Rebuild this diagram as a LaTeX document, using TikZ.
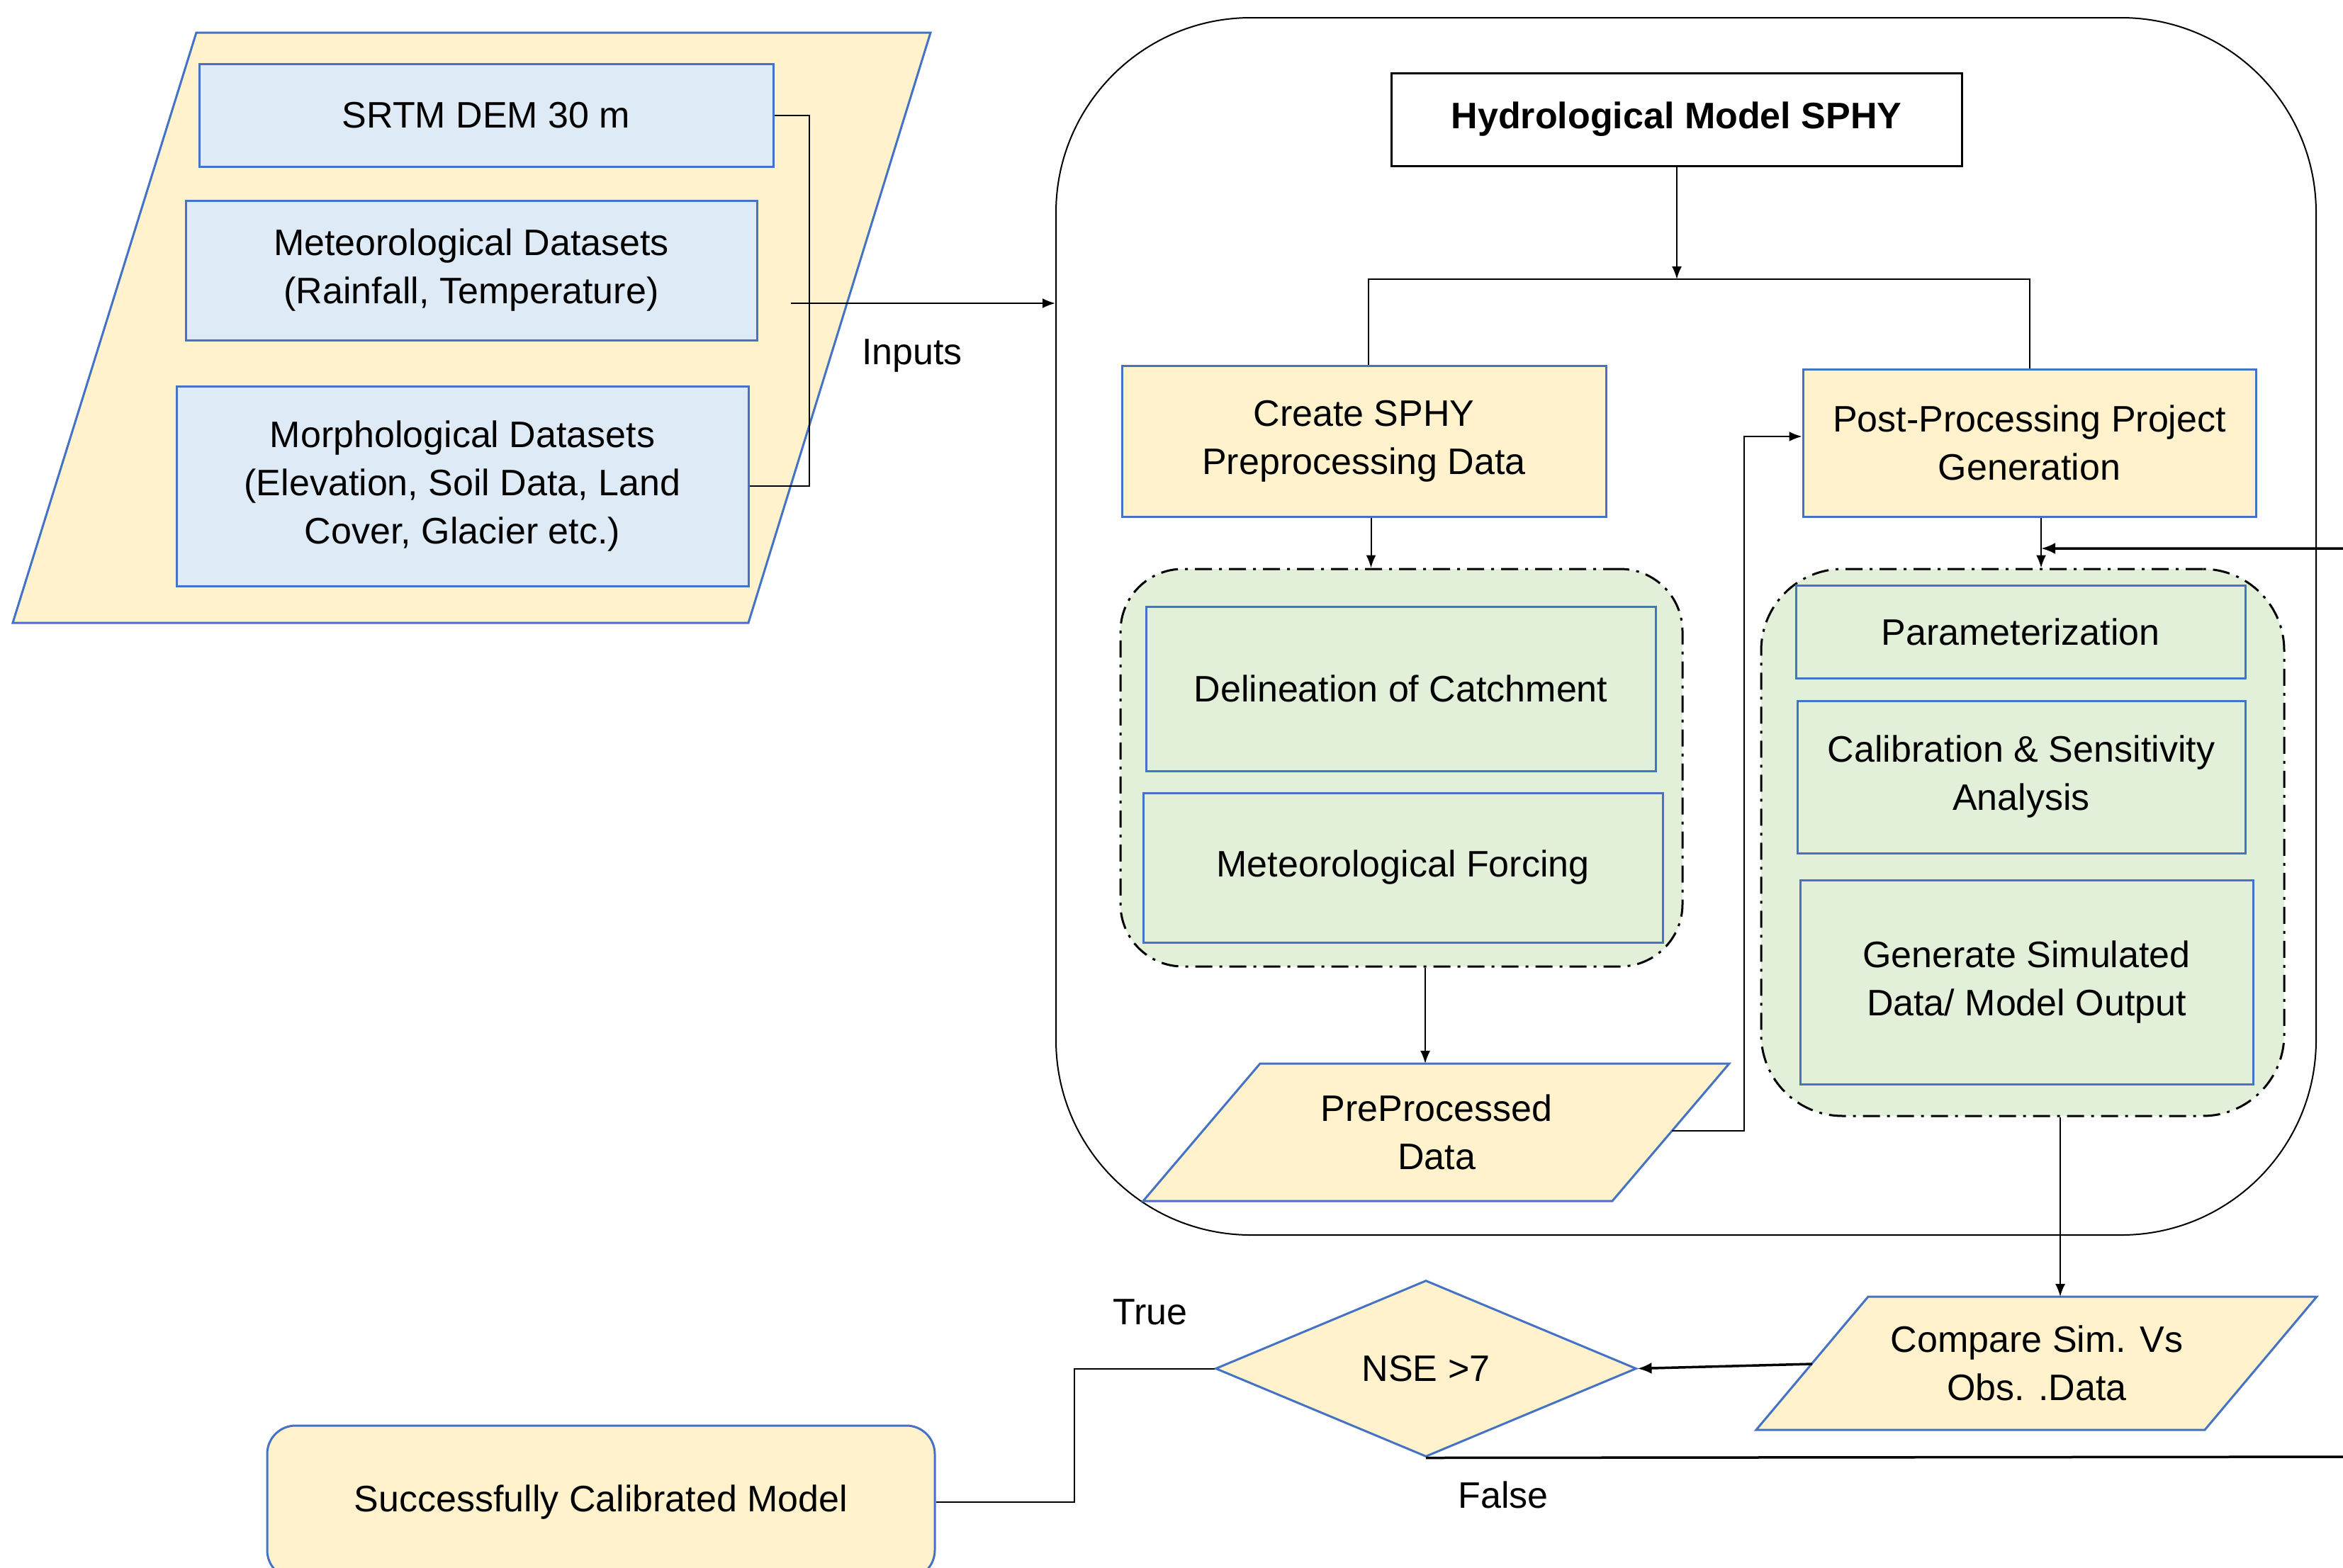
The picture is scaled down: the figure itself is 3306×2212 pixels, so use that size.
\documentclass[tikz,border=0pt]{standalone}
\usepackage{fontspec}
\setmainfont{Liberation Sans}
\usetikzlibrary{shapes.geometric,arrows.meta,calc}
\definecolor{ylw}{HTML}{FFF2CC}
\definecolor{lblue}{HTML}{DEEBF7}
\definecolor{lgreen}{HTML}{E2F0D9}
\definecolor{bdr}{HTML}{4472C4}
\begin{document}
\begin{tikzpicture}[x=1pt,y=-1pt,
  txt/.style={font=\fontsize{52}{68}\selectfont, align=center, text=black},
  boxbase/.style={txt, draw=bdr, line width=3pt, inner sep=0pt},
  bluebox/.style={boxbase, fill=lblue},
  ylwbox/.style={boxbase, fill=ylw},
  grnbox/.style={boxbase, fill=lgreen},
  para/.style={draw=bdr, fill=ylw, line width=3pt},
  grp/.style={draw=black, fill=lgreen, line width=3pt, dash pattern=on 24pt off 10pt on 4pt off 10pt, inner sep=0pt},
  conn/.style={draw=black, line width=2pt},
  arr/.style={conn, -{Latex[length=18pt,width=14pt]}},
  arrthick/.style={draw=black, line width=3.5pt, -{Latex[length=20pt,width=16pt]}},
  lbl/.style={txt, inner sep=0pt}
]
\useasboundingbox (0,0) rectangle (3306,2212);
\fill[white] (0,0) rectangle (3306,2212);
\clip (0,0) rectangle (3306,2212);

% ---------- inputs ----------
\draw[para] (277,46) -- (1313,46) -- (1056,879) -- (18,879) -- cycle;
\node[bluebox, minimum width=810pt, minimum height=145pt] (srtm) at (686,162.5) {SRTM DEM 30 m};
\node[bluebox, minimum width=806pt, minimum height=197pt] (met) at (665,381.5) {Meteorological Datasets\\(Rainfall, Temperature)};
\node[bluebox, minimum width=807pt, minimum height=282pt] (morph) at (652.5,686) {Morphological Datasets\\(Elevation, Soil Data, Land\\Cover, Glacier etc.)};
\draw[conn] (srtm.east) -- ++(49,0) |- (morph.east);

% ---------- main container ----------
\node[draw=black, line width=2pt, rounded corners=275pt, minimum width=1778pt, minimum height=1718pt, inner sep=0pt] (main) at (2379,884) {};
\coordinate (inStart) at (1116,428);
\draw[arr] (inStart) -- (inStart -| main.west);
\node[lbl] (inputs) at (1287,502) {Inputs};

\node[draw=black, fill=white, line width=3pt, txt, font=\fontsize{52}{68}\selectfont\bfseries, minimum width=805pt, minimum height=131pt, inner sep=0pt] (hydro) at (2365.5,168.5) {Hydrological Model SPHY};

\node[ylwbox, minimum width=683pt, minimum height=213pt] (create) at (1924.5,622.5) {Create SPHY\\Preprocessing Data};
\node[ylwbox, minimum width=639pt, minimum height=208pt] (post) at (2863.5,625) {Post-Processing Project\\Generation};

\coordinate (split) at (2366,394);
\draw[arr] (split |- hydro.south) -- (split);
\coordinate (cn) at ($(create.north)+(6,0)$);
\draw[conn] (cn) |- (split) -| (post.north);

% ---------- left group ----------
\node[grp, rounded corners=88pt, minimum width=793pt, minimum height=561pt] (lgrp) at (1977.5,1083.5) {};
\node[grnbox, minimum width=719pt, minimum height=232pt] (delin) at (1976.5,972) {Delineation of Catchment};
\node[grnbox, minimum width=733pt, minimum height=211pt] (force) at (1979.5,1224.5) {Meteorological Forcing};
\coordinate (ca) at ($(create.south)+(10,0)$);
\draw[arr] (ca) -- (ca |- lgrp.north);

% PreProcessed Data
\draw[para] (1778,1501) -- (2440,1501) -- (2275,1695) -- (1613,1695) -- cycle;
\node[lbl] (pre) at (2027,1598) {PreProcessed\\Data};
\coordinate (preTop) at (2011,1501);
\coordinate (preR) at (2359,1596);
\coordinate (postIn) at ($(post.west)+(0,-9)$);
\draw[arr] (preTop |- lgrp.south) -- (preTop);
\draw[arr] (preR) -- ++(102,0) |- (postIn);

% ---------- right group ----------
\node[grp, rounded corners=115pt, minimum width=738pt, minimum height=772pt] (rgrp) at (2854,1189) {};
\node[grnbox, minimum width=634pt, minimum height=131pt] (param) at (2851,891.5) {Parameterization};
\node[grnbox, minimum width=632pt, minimum height=215pt] (calib) at (2852,1096.5) {Calibration \& Sensitivity\\Analysis};
\node[grnbox, minimum width=639pt, minimum height=288pt] (gen) at (2859.5,1386) {Generate Simulated\\Data/ Model Output};
\coordinate (pa) at ($(post.south)+(16.5,0)$);
\draw[arr] (pa) -- (pa |- rgrp.north);

% ---------- bottom ----------
\draw[para] (2636,1830) -- (3269,1830) -- (3111,2018) -- (2478,2018) -- cycle;
\node[lbl] (cmp) at (2874,1924) {Compare Sim. Vs\\Obs. .Data};
\coordinate (cmpTop) at (2907,1830);
\coordinate (cmpL) at (2557,1925);
\draw[arr] (cmpTop |- rgrp.south) -- (cmpTop);

\node[diamond, draw=bdr, fill=ylw, line width=3pt, txt, aspect=2.4, minimum width=594pt, minimum height=249pt, inner sep=0pt] (nse) at (2012,1931.5) {NSE >7};
\draw[arrthick] (cmpL) -- (nse.east);

\node[ylwbox, rounded corners=40pt, minimum width=942pt, minimum height=216pt] (succ) at (848,2120) {Successfully Calibrated Model};
\draw[conn] (nse.west) -- ++(-198,0) |- (succ.east);

\coordinate (offR) at (3340,2056);
\coordinate (retE) at (3340,774);
\draw[arrthick] (nse.south) -- (offR) -- (retE) -- (pa |- retE);

\node[lbl] (true) at (1623,1852) {True};
\node[lbl] (false) at (2121,2110) {False};
\end{tikzpicture}
\end{document}
